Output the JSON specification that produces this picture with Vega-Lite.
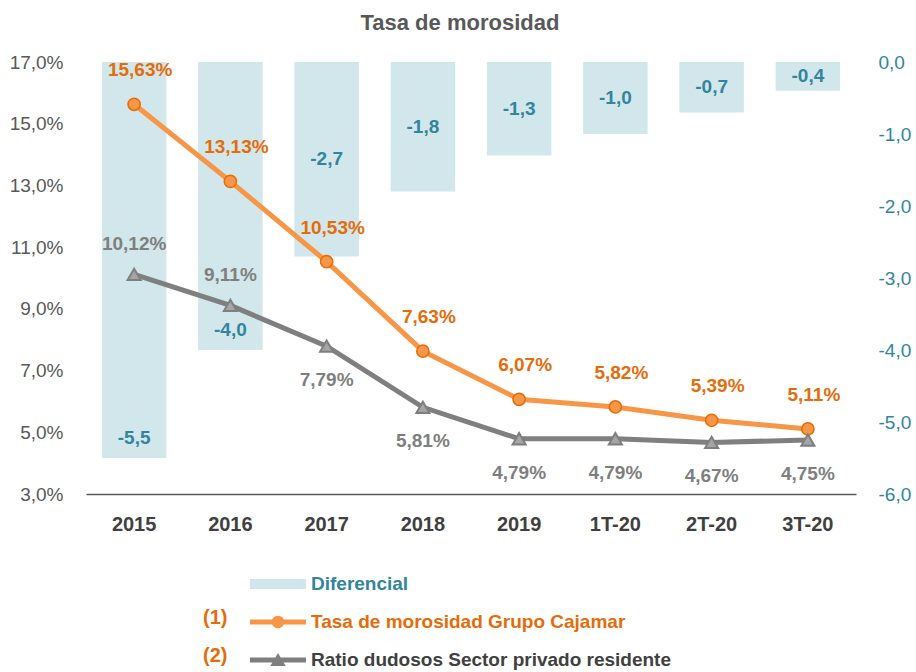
{
  "$schema": "https://vega.github.io/schema/vega-lite/v6.json",
  "width": 770,
  "height": 432,
  "padding": {"left": 9, "top": 12, "right": 0, "bottom": 0},
  "background": "white",
  "title": {"text": "Tasa de morosidad", "font": "Liberation Sans", "fontSize": 22, "fontWeight": "bold", "color": "#595959", "anchor": "middle", "frame": "bounds", "offset": 18},
  "data": {"values": [
    {"cat": "2015", "dif": -5.5, "tasa": 15.63, "ratio": 10.12},
    {"cat": "2016", "dif": -4.0, "tasa": 13.13, "ratio": 9.11},
    {"cat": "2017", "dif": -2.7, "tasa": 10.53, "ratio": 7.79},
    {"cat": "2018", "dif": -1.8, "tasa": 7.63, "ratio": 5.81},
    {"cat": "2019", "dif": -1.3, "tasa": 6.07, "ratio": 4.79},
    {"cat": "1T-20", "dif": -1.0, "tasa": 5.82, "ratio": 4.79},
    {"cat": "2T-20", "dif": -0.7, "tasa": 5.39, "ratio": 4.67},
    {"cat": "3T-20", "dif": -0.4, "tasa": 5.11, "ratio": 4.75}
  ]},
  "encoding": {
    "x": {"field": "cat", "type": "nominal", "sort": null,
      "scale": {"paddingInner": 0.33, "paddingOuter": 0.165},
      "axis": {"title": null, "labelAngle": 0, "labelFont": "Liberation Sans", "labelFontSize": 20, "labelFontWeight": "bold", "labelColor": "#404040", "ticks": false, "domainColor": "#595959", "domainWidth": 1.5, "labelPadding": 20, "grid": false}}
  },
  "layer": [
    {
      "mark": {"type": "bar", "color": "#D2E7EB"},
      "encoding": {
        "y": {"field": "dif", "type": "quantitative", "scale": {"domain": [-6, 0], "nice": false, "zero": false},
          "axis": {"orient": "right", "title": null, "values": [-6, -5, -4, -3, -2, -1, 0], "labelExpr": "replace(replace(format(datum.value, '.1f'), '.', ','), '−', '-')", "labelColor": "#31859C", "labelFont": "Liberation Sans", "labelFontSize": 19, "domain": false, "ticks": false, "grid": false, "labelPadding": 22}},
        "color": {"datum": "Diferencial", "type": "nominal",
          "scale": {"domain": ["Diferencial", "Tasa de morosidad Grupo Cajamar", "Ratio dudosos Sector privado residente"], "range": ["#D2E7EB", "#F79646", "#7F7F7F"]},
          "legend": {
            "orient": "none", "legendX": 117, "legendY": 508, "direction": "vertical",
            "title": [" ", "(1)", "(2)"], "titleOrient": "left", "titleColor": "#E46C0A", "titleFont": "Liberation Sans", "titleFontSize": 20, "titleFontWeight": "bold", "titleLineHeight": 38, "titlePadding": 22, "titleBaseline": "top", "titleAnchor": "start",
            "labelFont": "Liberation Sans", "labelFontSize": 19, "labelFontWeight": "bold", "labelLimit": 0,
            "symbolSize": 784, "symbolOffset": 14, "labelOffset": 19, "rowPadding": 14, "padding": 0,
            "encode": {
              "symbols": {"update": {
                "shape": {"signal": "datum.value === 'Diferencial' ? 'M-2,-0.36H2V0.36H-2Z' : (datum.value === 'Tasa de morosidad Grupo Cajamar' ? 'M-2,-0.18H2V0.18H-2Z M0.45,0A0.45,0.45 0 1,1 -0.45,0A0.45,0.45 0 1,1 0.45,0Z' : 'M-2,-0.18H2V0.18H-2Z M0,-0.5L0.55,0.42H-0.55Z')"},
                "fill": {"signal": "datum.value === 'Diferencial' ? '#D2E7EB' : (datum.value === 'Tasa de morosidad Grupo Cajamar' ? '#F79646' : '#7F7F7F')"},
                "stroke": {"value": "transparent"},
                "strokeWidth": {"value": 0},
                "opacity": {"value": 1}
              }},
              "labels": {"update": {
                "fill": {"signal": "datum.value === 'Diferencial' ? '#31859C' : (datum.value === 'Tasa de morosidad Grupo Cajamar' ? '#E46C0A' : '#404040')"}
              }}
            }
          }}
      }
    },
    {
      "transform": [{"filter": "datum.dif > -3.5"}],
      "mark": {"type": "text", "font": "Liberation Sans", "fontSize": 19, "fontWeight": "bold", "color": "#31859C", "baseline": "middle",
        "text": {"expr": "replace(replace(format(datum.dif, '.1f'), '.', ','), '−', '-')"}},
      "encoding": {
        "y": {"field": "dif", "type": "quantitative", "scale": {"domain": [-12, 0], "nice": false, "zero": false}, "axis": null}
      }
    },
    {
      "transform": [{"filter": "datum.dif <= -3.5"}],
      "mark": {"type": "text", "font": "Liberation Sans", "fontSize": 19, "fontWeight": "bold", "color": "#31859C", "baseline": "middle", "dy": -20,
        "text": {"expr": "replace(replace(format(datum.dif, '.1f'), '.', ','), '−', '-')"}},
      "encoding": {
        "y": {"field": "dif", "type": "quantitative", "scale": {"domain": [-6, 0], "nice": false, "zero": false}, "axis": null}
      }
    },
    {
      "mark": {"type": "line", "strokeWidth": 5},
      "encoding": {
        "y": {"field": "tasa", "type": "quantitative", "scale": {"domain": [3, 17], "nice": false, "zero": false},
          "axis": {"orient": "left", "title": null, "values": [3, 5, 7, 9, 11, 13, 15, 17], "labelExpr": "replace(format(datum.value, '.1f'), '.', ',') + '%'", "labelColor": "#595959", "labelFont": "Liberation Sans", "labelFontSize": 19, "domain": false, "ticks": false, "grid": false, "labelPadding": 23}},
        "color": {"datum": "Tasa de morosidad Grupo Cajamar", "type": "nominal"}
      }
    },
    {
      "mark": {"type": "line", "strokeWidth": 5},
      "encoding": {
        "y": {"field": "ratio", "type": "quantitative", "scale": {"domain": [3, 17], "nice": false, "zero": false}, "axis": null},
        "color": {"datum": "Ratio dudosos Sector privado residente", "type": "nominal"}
      }
    },
    {
      "mark": {"type": "point", "shape": "circle", "filled": true, "fill": "#F79646", "stroke": "#E46C0A", "strokeWidth": 1.5, "size": 150, "opacity": 1},
      "encoding": {
        "y": {"field": "tasa", "type": "quantitative", "scale": {"domain": [3, 17], "nice": false, "zero": false}, "axis": null}
      }
    },
    {
      "mark": {"type": "point", "shape": "triangle-up", "filled": true, "fill": "#A5A5A5", "stroke": "#7F7F7F", "strokeWidth": 2, "size": 170, "opacity": 1},
      "encoding": {
        "y": {"field": "ratio", "type": "quantitative", "scale": {"domain": [3, 17], "nice": false, "zero": false}, "axis": null}
      }
    },
    {
      "mark": {"type": "text", "font": "Liberation Sans", "fontSize": 19, "fontWeight": "bold", "color": "#E46C0A", "baseline": "middle", "dy": -34, "dx": 6,
        "text": {"expr": "replace(format(datum.tasa, '.2f'), '.', ',') + '%'"}},
      "encoding": {
        "y": {"field": "tasa", "type": "quantitative", "scale": {"domain": [3, 17], "nice": false, "zero": false}, "axis": null}
      }
    },
    {
      "transform": [{"filter": "datum.cat === '2015' || datum.cat === '2016'"}],
      "mark": {"type": "text", "font": "Liberation Sans", "fontSize": 19, "fontWeight": "bold", "color": "#7F7F7F", "baseline": "middle", "dy": -30,
        "text": {"expr": "replace(format(datum.ratio, '.2f'), '.', ',') + '%'"}},
      "encoding": {
        "y": {"field": "ratio", "type": "quantitative", "scale": {"domain": [3, 17], "nice": false, "zero": false}, "axis": null}
      }
    },
    {
      "transform": [{"filter": "datum.cat !== '2015' && datum.cat !== '2016'"}],
      "mark": {"type": "text", "font": "Liberation Sans", "fontSize": 19, "fontWeight": "bold", "color": "#7F7F7F", "baseline": "middle", "dy": 34,
        "text": {"expr": "replace(format(datum.ratio, '.2f'), '.', ',') + '%'"}},
      "encoding": {
        "y": {"field": "ratio", "type": "quantitative", "scale": {"domain": [3, 17], "nice": false, "zero": false}, "axis": null}
      }
    }
  ],
  "resolve": {"scale": {"y": "independent"}},
  "config": {"view": {"stroke": null}}
}
